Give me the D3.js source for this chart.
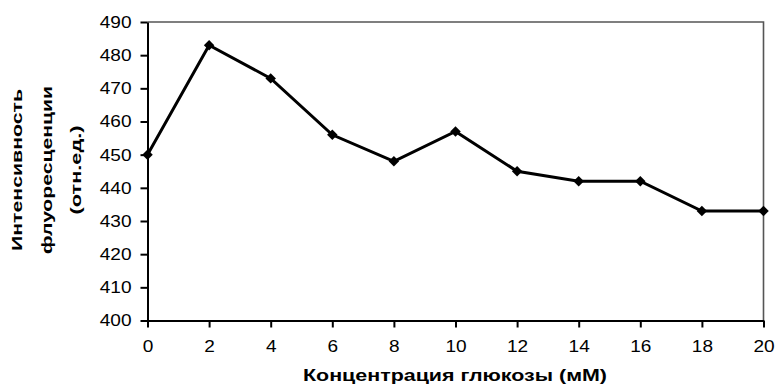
<!DOCTYPE html>
<html><head><meta charset="utf-8">
<script src="https://cdn.jsdelivr.net/npm/d3@7"></script>
<style>body{margin:0;background:#fff}svg{display:block}</style>
</head><body>
<svg id="c" width="776" height="385"></svg>
<script>
const concentrations = [0, 2, 4, 6, 8, 10, 12, 14, 16, 18, 20];
const intensity = [450, 483, 473, 456, 448, 457, 445, 442, 442, 433, 433];
const xTicks = [0, 2, 4, 6, 8, 10, 12, 14, 16, 18, 20];
const yTicks = [400, 410, 420, 430, 440, 450, 460, 470, 480, 490];
const xTitle = "Концентрация глюкозы (мМ)";
const yTitleLines = ["Интенсивность", "флуоресценции", "(отн.ед.)"];

const svg = d3.select("#c");
const L = 147.5, R = 763.5, T = 22, B = 320.5;
const x = d3.scaleLinear().domain([0, 20]).range([L, R]);
const y = d3.scaleLinear().domain([400, 490]).range([B, T]);
const font = "Arial, 'Liberation Sans', sans-serif";

// frame top & right
svg.append("path").attr("d", `M${L},${T}H${R}V${B}`).attr("fill", "none")
  .attr("stroke", "#555").attr("stroke-width", 1.6);

// y axis
const gy = svg.append("g").attr("transform", `translate(${L},0)`)
  .call(d3.axisLeft(y).tickValues(yTicks).tickSize(7).tickPadding(9).tickSizeOuter(0));
gy.select(".domain").attr("stroke", "#000").attr("stroke-width", 2);
gy.selectAll(".tick line").attr("stroke", "#000").attr("stroke-width", 2);
gy.selectAll(".tick text").attr("font-family", font).attr("font-size", 17).attr("fill", "#000")
  .attr("textLength", d => String(d).length * 10.6).attr("lengthAdjust", "spacingAndGlyphs");

// x axis
const gx = svg.append("g").attr("transform", `translate(0,${B})`)
  .call(d3.axisBottom(x).tickValues(xTicks).tickSize(7).tickPadding(12).tickSizeOuter(0));
gx.select(".domain").attr("stroke", "#000").attr("stroke-width", 2);
gx.selectAll(".tick line").attr("stroke", "#000").attr("stroke-width", 2);
gx.selectAll(".tick text").attr("font-family", font).attr("font-size", 17).attr("fill", "#000")
  .attr("textLength", d => String(d).length * 10.6).attr("lengthAdjust", "spacingAndGlyphs");

// line
const line = d3.line().x((d, i) => x(concentrations[i])).y(d => y(d));
svg.append("path").datum(intensity).attr("d", line).attr("fill", "none")
  .attr("stroke", "#000").attr("stroke-width", 3).attr("stroke-linejoin", "miter");

// markers (diamonds)
svg.selectAll(".m").data(intensity).enter().append("path")
  .attr("transform", (d, i) => `translate(${x(concentrations[i])},${y(d)})`)
  .attr("d", d3.symbol(d3.symbolDiamond2, 70)).attr("fill", "#000");

// x title
svg.append("text").attr("x", 455).attr("y", 381).attr("text-anchor", "middle")
  .attr("font-family", font).attr("font-weight", "bold").attr("font-size", 17)
  .attr("textLength", 304).attr("lengthAdjust", "spacingAndGlyphs").text(xTitle);

// y title
const yt = [{cx: 17, len: 162}, {cx: 47, len: 168}, {cx: 76, len: 89}];
yTitleLines.forEach((t, i) => {
  svg.append("text").attr("transform", `translate(${yt[i].cx + 5},170) rotate(-90)`)
    .attr("text-anchor", "middle").attr("font-family", font).attr("font-weight", "bold")
    .attr("font-size", 15).attr("textLength", yt[i].len).attr("lengthAdjust", "spacingAndGlyphs")
    .text(t);
});
</script>
</body></html>
